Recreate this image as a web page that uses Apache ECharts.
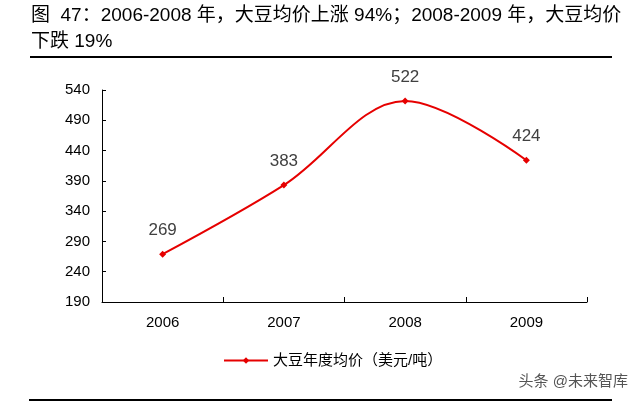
<!DOCTYPE html>
<html>
<head>
<meta charset="utf-8">
<script src="https://cdn.jsdelivr.net/npm/echarts@6/dist/echarts.min.js"></script>
<style>
  html, body { margin: 0; padding: 0; background: #fff; }
  #chart { width: 640px; height: 406px; }
</style>
</head>
<body>
<div id="chart"></div>
<script>
// 数据
const years = ['2006', '2007', '2008', '2009'];
const prices = [269, 383, 522, 424];
const seriesName = '大豆年度均价（美元/吨）';
const yMin = 190, yMax = 540, yStep = 50;

const FONT = '"Liberation Sans", Arial, "Noto Sans CJK SC", sans-serif';

const myChart = echarts.init(document.getElementById('chart'));
myChart.setOption({
    animation: false,
    backgroundColor: '#fff',
    graphic: [
        {
            type: 'text', left: 31, top: 6,
            style: { text: '图  47：2006-2008 年，大豆均价上涨 94%；2008-2009 年，大豆均价', fontFamily: FONT, fontSize: 19, fill: '#000' }
        },
        {
            type: 'text', left: 31, top: 32,
            style: { text: '下跌 19%', fontFamily: FONT, fontSize: 19, fill: '#000' }
        },
        { type: 'line', shape: { x1: 30, y1: 57, x2: 612, y2: 57 }, style: { stroke: '#000', lineWidth: 2 } },
        { type: 'line', shape: { x1: 29, y1: 400, x2: 612, y2: 400 }, style: { stroke: '#000', lineWidth: 2 } },
        {
            type: 'text', right: 12, top: 374,
            style: { text: '头条 @未来智库', fontFamily: FONT, fontSize: 15, fill: '#555' }
        }
    ],
    legend: {
        data: [seriesName],
        left: 218,
        top: 348,
        itemWidth: 44,
        itemHeight: 8,
        textStyle: { fontFamily: FONT, fontSize: 15, color: '#000' }
    },
    grid: { left: 102, right: 53, top: 90, bottom: 104 },
    xAxis: {
        type: 'category',
        data: years,
        axisLine: { lineStyle: { color: '#000', width: 1 } },
        axisTick: { show: true, inside: true, length: 5, lineStyle: { color: '#000' } },
        axisLabel: { fontFamily: FONT, fontSize: 15, color: '#000', margin: 13 }
    },
    yAxis: {
        type: 'value',
        min: yMin,
        max: yMax,
        interval: yStep,
        splitLine: { show: false },
        axisLine: { show: true, lineStyle: { color: '#000', width: 1 } },
        axisTick: { show: true, inside: true, length: 4, lineStyle: { color: '#000' } },
        axisLabel: { fontFamily: FONT, fontSize: 15, color: '#000', margin: 12 }
    },
    series: [{
        name: seriesName,
        type: 'line',
        data: prices,
        smooth: 0.35,
        symbol: 'diamond',
        symbolSize: 7,
        itemStyle: { color: '#e60000' },
        lineStyle: { color: '#e60000', width: 2 },
        label: {
            show: true,
            position: 'top',
            distance: 12,
            fontFamily: FONT,
            fontSize: 17,
            color: '#404040'
        }
    }]
});
</script>
</body>
</html>
